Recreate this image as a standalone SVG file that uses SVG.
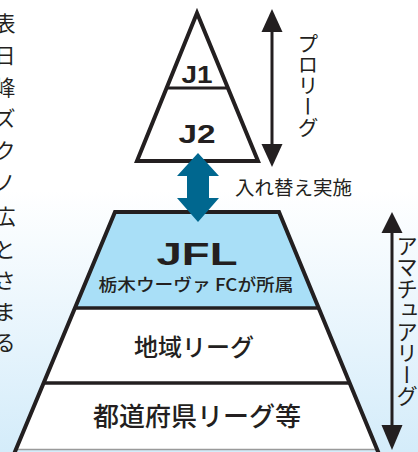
<svg xmlns="http://www.w3.org/2000/svg" width="418" height="452" viewBox="0 0 418 452">
<defs>
<linearGradient id="bg" x1="0" y1="0" x2="0" y2="1">
<stop offset="0" stop-color="#ffffff"/>
<stop offset="0.42" stop-color="#ffffff"/>
<stop offset="1" stop-color="#d4ecfa"/>
</linearGradient>
<style>
.jp{font-family:"Noto Sans CJK JP","Noto Sans",sans-serif;fill:#231f20}
.med{font-weight:500}
.lat{font-family:"Liberation Sans",Arial,sans-serif;font-weight:bold;fill:#231f20}
.edge{stroke:#231f20;stroke-width:4;stroke-linejoin:miter}
.vert{writing-mode:vertical-rl}
</style>
</defs>
<rect x="0" y="0" width="418" height="452" fill="url(#bg)"/>

<g id="side-text" class="jp" font-size="21" text-anchor="middle" dominant-baseline="central">
<text x="5" y="22">表</text>
<text x="5" y="54">日</text>
<text x="5" y="86">峰</text>
<text x="5" y="117">ズ</text>
<text x="5" y="149">ク</text>
<text x="5" y="181">ノ</text>
<text x="5" y="215">広</text>
<text x="5" y="248">と</text>
<text x="5" y="279">さ</text>
<text x="5" y="310">ま</text>
<text x="5" y="341">る</text>
</g>

<g id="pro-pyramid">
<polygon points="197,13 258,161 137,161" fill="#ffffff" class="edge"/>
<line x1="166" y1="88" x2="228" y2="88" stroke="#231f20" stroke-width="3"/>
<text class="lat" x="197" y="83" font-size="24" text-anchor="middle" textLength="31" lengthAdjust="spacingAndGlyphs">J1</text>
<text class="lat" x="197" y="143" font-size="25" text-anchor="middle" textLength="37" lengthAdjust="spacingAndGlyphs">J2</text>
</g>

<g id="amateur-pyramid">
<polygon points="115,212 279,212 318.4,308 75.6,308" fill="#a9dff7"/>
<polygon points="75.6,308 318.4,308 349.1,383 44.9,383" fill="#ffffff"/>
<polygon points="44.9,383 349.1,383 377,449 16,449" fill="#ffffff"/>
<line x1="16" y1="449.5" x2="377" y2="449.5" stroke="#9a9a9a" stroke-width="1.5"/>
<polyline points="14,454 115,212 279,212 379,454" fill="none" class="edge"/>
<line x1="75.6" y1="308" x2="318.4" y2="308" stroke="#231f20" stroke-width="3.5"/>
<line x1="44.9" y1="383" x2="349.1" y2="383" stroke="#231f20" stroke-width="3.5"/>
</g>

<g id="jfl">
<text class="lat" x="197" y="265" font-size="31.5" text-anchor="middle" textLength="81" lengthAdjust="spacingAndGlyphs">JFL</text>
<text class="jp med" x="196" y="291" font-size="17" text-anchor="middle" textLength="195" lengthAdjust="spacingAndGlyphs">栃木ウーヴァ FCが所属</text>
</g>
<g id="regional">
<text class="jp med" x="194" y="356" font-size="24" text-anchor="middle">地域リーグ</text>
</g>
<g id="prefectural">
<text class="jp med" x="197" y="426" font-size="26" text-anchor="middle">都道府県リーグ等</text>
</g>

<g id="connectors">
<polygon points="198,153 219,176 209,176 209,198 219,198 198,222 177,198 187,198 187,176 177,176" fill="#00678f"/>
<line x1="272" y1="28" x2="272" y2="148" stroke="#231f20" stroke-width="3"/>
<polygon points="272,9 282.5,32 261.5,32" fill="#231f20"/>
<polygon points="272,167 282.5,144 261.5,144" fill="#231f20"/>
<line x1="392" y1="228" x2="392" y2="430" stroke="#231f20" stroke-width="3"/>
<polygon points="392,212 402.5,233 381.5,233" fill="#231f20"/>
<polygon points="392,450 402.5,425 381.5,425" fill="#231f20"/>
</g>

<g id="labels">
<text class="jp" x="235" y="195" font-size="19.5">入れ替え実施</text>
<text class="jp vert" x="308" y="33" font-size="21">プロリーグ</text>
<text class="jp vert" x="407" y="235" font-size="21.5">アマチュアリーグ</text>
</g>
</svg>
